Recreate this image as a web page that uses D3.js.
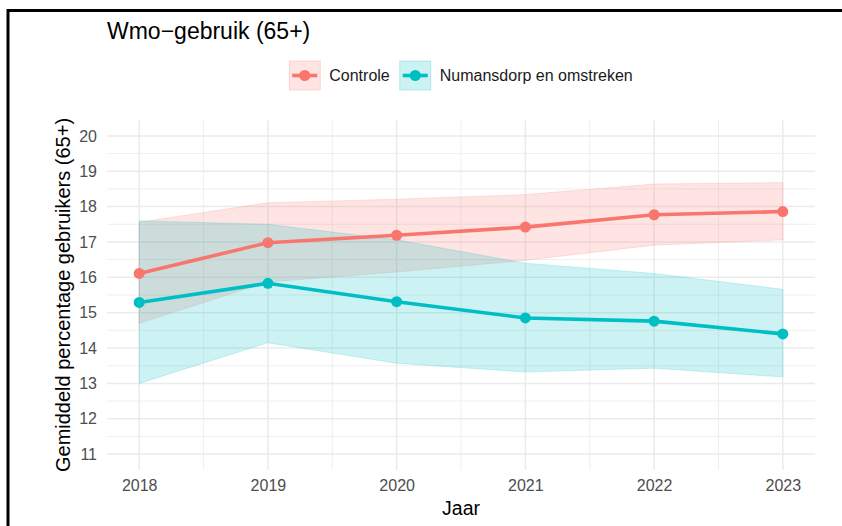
<!DOCTYPE html>
<html>
<head>
<meta charset="utf-8">
<script src="https://cdn.jsdelivr.net/npm/d3@7"></script>
<style>
  body { margin: 0; background: #fff; }
  text { font-family: "Liberation Sans", Arial, sans-serif; }
</style>
</head>
<body>
<div id="chart"></div>
<script>
// data
const years = [2018, 2019, 2020, 2021, 2022, 2023]
const controleMean = [16.11, 16.98, 17.19, 17.42, 17.77, 17.86]
const controleLow = [14.70, 15.87, 16.15, 16.48, 16.91, 17.06]
const controleHigh = [17.56, 18.11, 18.21, 18.34, 18.64, 18.68]
const numansMean = [15.29, 15.83, 15.31, 14.85, 14.76, 14.40]
const numansLow = [13.00, 14.15, 13.57, 13.32, 13.43, 13.18]
const numansHigh = [17.60, 17.50, 17.06, 16.40, 16.11, 15.66]
const yTicks = [11, 12, 13, 14, 15, 16, 17, 18, 19, 20]
const seriesNames = ["Controle", "Numansdorp en omstreken"]
const seriesColors = ["#F8766D", "#00BFC4"]

const W = 842, H = 526
const PANEL = { LEFT: 107, RIGHT: 815, TOP: 120, BOTTOM: 470 }

const svg = d3.select("#chart").append("svg")
  .attr("width", W)
  .attr("height", H)

// frame (top + left edges only, like the crop)
svg.append("line").attr("x1", 8).attr("x2", W).attr("y1", 10.5).attr("y2", 10.5)
  .attr("stroke", "#000").attr("stroke-width", 3)
svg.append("line").attr("x1", 8).attr("x2", 8).attr("y1", 9).attr("y2", H)
  .attr("stroke", "#000").attr("stroke-width", 3)

// scales
const x = d3.scaleLinear().domain([2017.75, 2023.25]).range([PANEL.LEFT, PANEL.RIGHT])
const y = d3.scaleLinear().domain([10.55, 20.45]).range([PANEL.BOTTOM, PANEL.TOP])

// grid
const grid = svg.append("g")
const minorY = d3.range(10.5, 20.5, 1).filter(v => v > 10.55 && v < 20.45)
const minorX = d3.range(2018.5, 2023, 1)
grid.selectAll(".minor-y").data(minorY).enter().append("line")
  .attr("x1", PANEL.LEFT).attr("x2", PANEL.RIGHT)
  .attr("y1", d => y(d)).attr("y2", d => y(d))
  .attr("stroke", "#ebebeb").attr("stroke-width", 0.8)
grid.selectAll(".minor-x").data(minorX).enter().append("line")
  .attr("y1", PANEL.TOP).attr("y2", PANEL.BOTTOM)
  .attr("x1", d => x(d)).attr("x2", d => x(d))
  .attr("stroke", "#ebebeb").attr("stroke-width", 0.8)
grid.selectAll(".major-y").data(yTicks).enter().append("line")
  .attr("x1", PANEL.LEFT).attr("x2", PANEL.RIGHT)
  .attr("y1", d => y(d)).attr("y2", d => y(d))
  .attr("stroke", "#ebebeb").attr("stroke-width", 1.5)
grid.selectAll(".major-x").data(years).enter().append("line")
  .attr("y1", PANEL.TOP).attr("y2", PANEL.BOTTOM)
  .attr("x1", d => x(d)).attr("x2", d => x(d))
  .attr("stroke", "#ebebeb").attr("stroke-width", 1.5)

// axes (no domain, no tick marks)
const xAxis = svg.append("g")
  .attr("transform", `translate(0, ${PANEL.BOTTOM})`)
  .call(d3.axisBottom(x).tickValues(years).tickFormat(d3.format("d")).tickSize(0).tickPadding(10))
const yAxis = svg.append("g")
  .attr("transform", `translate(${PANEL.LEFT}, 0)`)
  .call(d3.axisLeft(y).tickValues(yTicks).tickSize(0).tickPadding(10))
;[xAxis, yAxis].forEach(a => {
  a.select(".domain").remove()
  a.selectAll("text")
    .attr("fill", "#4d4d4d")
    .attr("font-size", "16px")
    .style("font-family", "'Liberation Sans', Arial, sans-serif")
})

// series
const series = [
  { name: seriesNames[0], color: seriesColors[0], mean: controleMean, low: controleLow, high: controleHigh },
  { name: seriesNames[1], color: seriesColors[1], mean: numansMean, low: numansLow, high: numansHigh }
]

const area = d3.area()
  .x((d, i) => x(years[i]))
  .y0(d => y(d[0]))
  .y1(d => y(d[1]))
const line = d3.line()
  .x((d, i) => x(years[i]))
  .y(d => y(d))

series.forEach(s => {
  svg.append("path")
    .attr("d", area(s.low.map((v, i) => [v, s.high[i]])))
    .attr("fill", s.color)
    .attr("fill-opacity", 0.2)
    .attr("stroke", s.color)
    .attr("stroke-opacity", 0.3)
    .attr("stroke-width", 0.6)
})

series.forEach(s => {
  svg.append("path")
    .attr("d", line(s.mean))
    .attr("fill", "none")
    .attr("stroke", s.color)
    .attr("stroke-width", 3.6)
  svg.selectAll(null).data(s.mean).enter().append("circle")
    .attr("cx", (d, i) => x(years[i]))
    .attr("cy", d => y(d))
    .attr("r", 5.5)
    .attr("fill", s.color)
})

// titles
svg.append("text")
  .attr("x", PANEL.LEFT)
  .attr("y", 38.5)
  .attr("font-size", "23px")
  .attr("fill", "#000")
  .text("Wmo\u2212gebruik (65+)")

svg.append("text")
  .attr("x", (PANEL.LEFT + PANEL.RIGHT) / 2)
  .attr("y", 515)
  .attr("text-anchor", "middle")
  .attr("font-size", "19.5px")
  .attr("fill", "#000")
  .text("Jaar")

svg.append("text")
  .attr("transform", `translate(70, ${(PANEL.TOP + PANEL.BOTTOM) / 2}) rotate(-90)`)
  .attr("text-anchor", "middle")
  .attr("font-size", "20px")
  .attr("fill", "#000")
  .text("Gemiddeld percentage gebruikers (65+)")

// legend
const KEY_W = 31, KEY_H = 29, GAP_TEXT = 9, GAP_ITEM = 10, LEG_Y = 61
const legend = svg.append("g")
let cursor = 0
const items = series.map(s => {
  const g = legend.append("g").attr("transform", `translate(${cursor}, ${LEG_Y})`)
  g.append("rect")
    .attr("width", KEY_W).attr("height", KEY_H)
    .attr("fill", s.color).attr("fill-opacity", 0.2)
    .attr("stroke", s.color).attr("stroke-opacity", 0.3).attr("stroke-width", 0.8)
  g.append("line")
    .attr("x1", 3).attr("x2", KEY_W - 3)
    .attr("y1", KEY_H / 2).attr("y2", KEY_H / 2)
    .attr("stroke", s.color).attr("stroke-width", 3.6)
  g.append("circle")
    .attr("cx", KEY_W / 2).attr("cy", KEY_H / 2).attr("r", 5.5)
    .attr("fill", s.color)
  const t = g.append("text")
    .attr("x", KEY_W + GAP_TEXT)
    .attr("y", KEY_H / 2)
    .attr("dy", "0.35em")
    .attr("font-size", "16px")
    .attr("fill", "#1a1a1a")
    .text(s.name)
  cursor += KEY_W + GAP_TEXT + t.node().getComputedTextLength() + GAP_ITEM
  return g
})
const legendWidth = cursor - GAP_ITEM
legend.attr("transform", `translate(${(PANEL.LEFT + PANEL.RIGHT) / 2 - legendWidth / 2}, 0)`)
</script>
</body>
</html>
